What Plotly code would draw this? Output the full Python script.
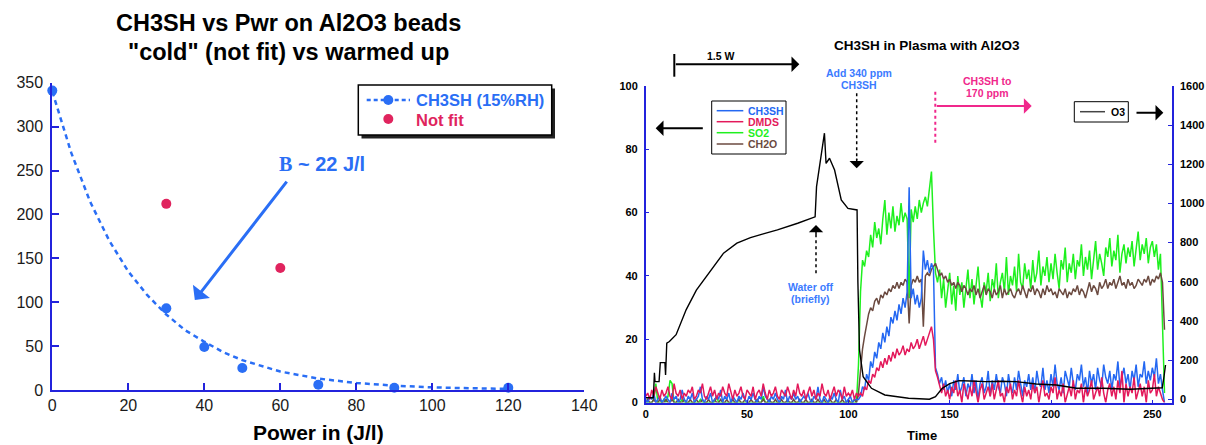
import plotly.graph_objects as go

W, H = 1206, 445
def fx(p): return p / W
def fy(p): return 1 - p / H

FONT = "Arial, Liberation Sans, sans-serif"
AXBLUE = "#2323dc"
LBLUE = "#2a6ef5"
CRIMSON = "#e0245e"

# ---------------- Left chart data ----------------
power = [0, 30, 40, 50, 70, 90, 120]
ch3sh_ppm = [341, 93, 49, 25, 6, 2.6, 2.6]
notfit_power = [30, 60]
notfit_ppm = [212, 139]
fit_power = [0, 5, 10, 15, 20, 25, 30, 35, 40, 45, 50, 60, 70, 80, 90, 100, 110, 120]
fit_ppm = [340, 270, 214, 170, 135, 108, 86, 68, 55, 43, 34, 21, 13, 8, 5, 3, 2, 1.3]
left_xticks = [0, 20, 40, 60, 80, 100, 120, 140]
left_yticks = [0, 50, 100, 150, 200, 250, 300, 350]

# ---------------- Right chart data ----------------
time = list(range(257))

ch3sh = [
    1, 0, 2, 1, 3, 0, 1, 2, 0, 1,
    2, 1, 0, 3, 1, 2, 0, 1, 4, 1,
    0, 2, 1, 3, 0, 1, 2, 5, 1, 0,
    2, 1, 3, 0, 1, 2, 1, 4, 0, 2,
    1, 3, 0, 2, 1, 0, 2, 1, 3, 1,
    0, 2, 1, 3, 1, 0, 2, 1, 5, 2,
    1, 0, 2, 1, 3, 1, 0, 2, 1, 4,
    0, 2, 1, 3, 1, 2, 0, 1, 2, 1,
    3, 1, 0, 2, 1, 5, 1, 0, 2, 1,
    0, 2, 1, 3, 1, 0, 4, 1, 2, 0,
    1, 2, 0, 1, 1,
    1, 2, 5, 4, 9, 7, 13, 11, 16, 14, 19, 17, 22, 19, 24, 21, 27, 25, 29, 26,
    31, 28, 33, 30, 35, 68, 33, 36, 31, 34, 30, 33, 48, 42, 45, 41, 44, 42, 11,
    9, 6, 8, 4, 7, 3, 6, 2, 7, 4, 9, 3, 5, 8, 2, 6,
    4, 9, 3, 7, 1, 6, 8, 3, 5, 10,
    2, 7, 4, 9, 5, 3, 8, 6, 2, 9,
    5, 3, 8, 4, 10, 6, 2, 7, 5, 9,
    4, 8, 3, 10, 6, 5, 11, 4, 7, 3,
    9, 5, 12, 6, 4, 8, 3, 10, 7, 5,
    11, 6, 4, 9, 7, 12, 5, 8, 3, 10,
    6, 9, 4, 11, 7, 5, 12, 8, 6, 10,
    4, 9, 7, 13, 5, 8, 11, 6, 9, 4,
    10, 7, 12, 5, 9, 8, 13, 6, 10, 7,
    11, 8, 14, 6, 9, 4, 0,
]

dmds = [
    2, 3, 1, 4, 2, 5, 3, 1, 4, 2,
    3, 5, 2, 1, 6, 3, 2, 4, 1, 3,
    2, 4, 3, 5, 1, 2, 4, 3, 6, 2,
    1, 3, 5, 2, 4, 1, 3, 2, 5, 3,
    2, 6, 3, 1, 4, 2, 3, 5, 2, 1,
    4, 3, 2, 5, 1, 3, 4, 2, 6, 3,
    1, 4, 2, 3, 5, 2, 1, 4, 3, 2,
    5, 3, 1, 4, 2, 6, 3, 2, 4, 1,
    3, 5, 2, 4, 1, 3, 2, 6, 3, 2,
    4, 1, 3, 5, 2, 4, 3, 1, 5, 2,
    3, 2, 4, 1, 3,
    2, 3, 2, 5, 4, 7, 6, 9, 8, 11, 10, 13, 11, 14, 12, 15, 13, 16, 14, 17,
    15, 16, 18, 15, 17, 16, 19, 17, 18, 20, 17, 19, 21, 18, 20, 22, 24, 20, 10,
    8, 5, 3, 6, 2, 4, 1, 5, 3, 7, 2, 4, 0, 6, 3, 1,
    5, 2, 7, 3, 0, 4, 6, 1, 3, 5,
    2, 6, 1, 4, 7, 2, 3, 0, 5, 3,
    6, 1, 4, 2, 7, 3, 0, 5, 2, 4,
    1, 6, 3, 5, 0, 4, 7, 2, 3, 1,
    5, 3, 8, 1, 4, 2, 6, 0, 3, 5,
    2, 7, 1, 4, 3, 6, 0, 5, 2, 4,
    7, 1, 3, 5, 2, 8, 3, 0, 4, 6,
    2, 5, 1, 7, 3, 10, 0, 6, 2, 5,
    3, 8, 1, 4, 6, 2, 5, 0, 7, 3,
    4, 9, 2, 5, 3, 1, 0,
]

so2 = [
    0, 0, 0, 0, 1, 6, 0, 0, 0, 1,
    0, 2, 7, 6, 0, 0, 0, 0, 1, 0,
    0, 0, 0, 0, 0, 0, 0, 1, 0, 0,
    0, 0, 0, 0, 0, 2, 0, 0, 0, 0,
    0, 0, 0, 0, 0, 0, 0, 0, 0, 0,
    0, 0, 0, 0, 0, 0, 0, 0, 2, 0,
    0, 0, 0, 0, 0, 0, 0, 0, 0, 0,
    0, 0, 0, 0, 0, 0, 0, 0, 0, 0,
    0, 0, 0, 0, 0, 0, 0, 0, 0, 0,
    0, 0, 0, 0, 0, 0, 0, 0, 0, 0,
    0, 0, 0, 0, 0,
    12, 35, 45, 43, 48, 46, 53, 49, 57, 52, 55, 50, 58, 64, 53, 60, 55, 62, 54, 59,
    56, 63, 57, 60, 58, 33, 61, 57, 62, 58, 64, 60, 63, 65, 62, 67, 73, 55, 41,
    38, 42, 33, 39, 30, 36, 41, 31, 37, 29, 40, 34, 38, 30, 36, 42,
    33, 39, 31, 37, 43, 34, 30, 38, 35, 41,
    32, 39, 36, 44, 33, 38, 41, 35, 46, 34,
    40, 37, 43, 35, 47, 38, 36, 44, 39, 42,
    36, 45, 38, 41, 48, 37, 43, 40, 46, 38,
    44, 39, 47, 41, 36, 45, 42, 49, 38, 44,
    41, 47, 39, 45, 43, 50, 40, 46, 42, 48,
    39, 45, 51, 42, 47, 44, 40, 49, 46, 52,
    43, 48, 45, 53, 41, 47, 50, 44, 49, 46,
    51, 43, 48, 54, 45, 50, 47, 52, 44, 49,
    51, 46, 50, 42, 47, 25, 3,
]

ch2o = [
    0, 1, 0, 0, 1, 0, 0, 1, 0, 0,
    1, 0, 0, 1, 0, 0, 1, 0, 0, 1,
    0, 0, 1, 0, 0, 1, 0, 0, 1, 0,
    0, 1, 0, 0, 1, 0, 0, 1, 0, 0,
    1, 0, 0, 1, 0, 0, 1, 0, 0, 1,
    0, 0, 1, 0, 0, 1, 0, 0, 1, 0,
    0, 1, 0, 0, 1, 0, 0, 1, 0, 0,
    1, 0, 0, 1, 0, 0, 1, 0, 0, 1,
    0, 0, 1, 0, 0, 1, 0, 0, 1, 0,
    0, 1, 0, 0, 1, 0, 0, 1, 0, 0,
    1, 0, 0, 1, 0,
    3, 10, 17, 21, 25, 28, 30, 29, 32, 33, 31, 34, 33, 35, 34, 36, 35, 37, 36, 38,
    36, 38, 37, 39, 38, 25, 37, 39, 38, 40, 38, 39, 24, 40, 41, 40, 42, 43, 44,
    42, 40, 41, 39, 40, 38, 39, 37, 38, 36, 38, 37, 35, 37, 36, 34,
    36, 35, 37, 34, 36, 33, 35, 37, 34, 36,
    35, 33, 36, 34, 35, 37, 33, 36, 34, 35,
    36, 34, 33, 35, 36, 34, 37, 35, 33, 36,
    35, 37, 34, 36, 35, 33, 36, 34, 37, 35,
    36, 34, 35, 33, 36, 35, 34, 36, 33, 35,
    34, 36, 35, 37, 34, 36, 35, 33, 36, 38,
    35, 37, 36, 34, 38, 36, 37, 39, 36, 38,
    37, 39, 36, 38, 40, 37, 38, 36, 39, 37,
    38, 36, 37, 39, 38, 37, 39, 38, 40, 37,
    39, 38, 40, 39, 41, 38, 23,
]

o3_time = [0, 3.8, 4.3, 4.6, 6.6, 7.2, 9.5, 9.8, 10.4, 11.7,
           15, 20, 25, 31.7, 38.4, 45, 51.7, 58, 65, 75,
           83.6, 84.3, 86, 88.2, 89, 90.7, 93.2, 96.5, 99.8, 104.3,
           104.7, 105.5, 107.3, 111.4, 118, 124, 129.7, 135, 140, 143,
           146.3, 150, 154.6, 160, 167.8, 175, 182.7, 192.7, 202.6, 212.6,
           225.9, 239, 248, 254.9, 255.8, 256.5]
o3 = [8, 8, 135, 90, 90, 187, 187, 124, 287, 295,
      330, 458, 557, 652, 746, 797, 826, 845, 865, 899,
      932, 1086, 1200, 1359, 1205, 1231, 1171, 1018, 975, 967,
      600, 252, 115, 56, 22, 12, 5, 3, 0, 13,
      56, 80, 95, 93, 90, 92, 90, 78, 73, 56,
      56, 51, 55, 59, 120, 175]

right_xticks = [0, 50, 100, 150, 200, 250]
right_yticks = [0, 20, 40, 60, 80, 100]
o3_ticks = [0, 200, 400, 600, 800, 1000, 1200, 1400, 1600]

series = [
    ("SO2", so2, "#1ef01e"),
    ("CH2O", ch2o, "#6b4a40"),
    ("CH3SH", ch3sh, "#2468f2"),
    ("DMDS", dmds, "#e3195b"),
]
legend_order = ["CH3SH", "DMDS", "SO2", "CH2O"]
colors = {n: c for n, _, c in series}

fig = go.Figure()

# ---- left chart traces ----
fig.add_trace(go.Scatter(x=fit_power, y=fit_ppm, mode="lines",
                         line=dict(color=LBLUE, width=2.5, dash="5px,4px"),
                         xaxis="x", yaxis="y", showlegend=False, hoverinfo="skip"))
fig.add_trace(go.Scatter(x=power, y=ch3sh_ppm, mode="markers",
                         marker=dict(color=LBLUE, size=10),
                         xaxis="x", yaxis="y", showlegend=False, cliponaxis=False))
fig.add_trace(go.Scatter(x=notfit_power, y=notfit_ppm, mode="markers",
                         marker=dict(color=CRIMSON, size=10),
                         xaxis="x", yaxis="y", showlegend=False))

# ---- right chart traces ----
for name, vals, col in series:
    fig.add_trace(go.Scatter(x=time, y=vals, mode="lines", name=name,
                             line=dict(color=col, width=1.5),
                             xaxis="x2", yaxis="y3", showlegend=False))
fig.add_trace(go.Scatter(x=o3_time, y=o3, mode="lines", name="O3",
                         line=dict(color="black", width=1.4),
                         xaxis="x2", yaxis="y4", showlegend=False))

common_ax = dict(showgrid=False, zeroline=False, showline=True, linecolor=AXBLUE,
                 ticks="inside", tickcolor=AXBLUE, automargin=False)

L_x0, L_x1, L_yt, L_yb = 52.3, 584.3, 82.7, 390
R_x0, R_x1, R_yt, R_yb = 645.7, 1172, 86, 402.6

fig.update_layout(
    width=W, height=H, margin=dict(l=0, r=0, t=0, b=0, autoexpand=False),
    paper_bgcolor="white", plot_bgcolor="white",
    font=dict(family=FONT, color="black"),
    xaxis=dict(common_ax, domain=[fx(L_x0), fx(L_x1)], range=[0, 140], anchor="y",
               tickvals=left_xticks, ticklen=7, tickwidth=1.5, linewidth=2,
               tickfont=dict(size=16, color="#1a1a1a")),
    yaxis=dict(common_ax, domain=[fy(L_yb), fy(L_yt)], range=[0, 350], anchor="x",
               tickvals=left_yticks, ticklen=7, tickwidth=1.5, linewidth=2,
               tickfont=dict(size=16, color="#1a1a1a"), ticklabelstandoff=4),
    yaxis2=dict(common_ax, overlaying="y", side="right", anchor="x", range=[0, 350],
                tickvals=left_yticks, ticklen=7, tickwidth=1.5, linewidth=2,
                showticklabels=False),
    xaxis2=dict(common_ax, domain=[fx(R_x0), fx(R_x1)], range=[0, 259.7], anchor="y3",
                tickvals=right_xticks, ticklen=3, tickwidth=1, linewidth=1.5,
                tickfont=dict(size=11, color="black", weight="bold")),
    yaxis3=dict(common_ax, domain=[fy(R_yb), fy(R_yt)], range=[0, 100], anchor="x2",
                tickvals=right_yticks, ticklen=4, tickwidth=1, linewidth=1.5,
                tickfont=dict(size=11, color="black", weight="bold"), ticklabelstandoff=4),
    yaxis4=dict(common_ax, overlaying="y3", side="right", anchor="x2", range=[-17, 1600],
                tickvals=o3_ticks, ticklen=4, tickwidth=1, linewidth=1.5,
                tickfont=dict(size=11, color="black", weight="bold"), ticklabelstandoff=4),
)

ann = []
shapes = []

def text(x, y, s, size, color="black", anchor="center", bold=True):
    ann.append(dict(x=fx(x), y=fy(y), xref="paper", yref="paper", text=s,
                    showarrow=False, xanchor=anchor, yanchor="middle",
                    font=dict(size=size, color=color, family=FONT,
                              weight="bold" if bold else "normal")))

def arrow(tx, ty, sx, sy, color="black", width=2, size=1.3):
    ann.append(dict(x=fx(tx), y=fy(ty), xref="paper", yref="paper", text="",
                    showarrow=True, ax=sx - tx, ay=sy - ty, arrowcolor=color,
                    arrowwidth=width, arrowhead=1, arrowsize=size, standoff=0))

def line(x0, y0, x1, y1, color="black", width=1.5, dash="solid"):
    shapes.append(dict(type="line", xref="paper", yref="paper",
                       x0=fx(x0), y0=fy(y0), x1=fx(x1), y1=fy(y1),
                       line=dict(color=color, width=width, dash=dash)))

def rect(x0, y0, x1, y1, fill="white", lc="black", lw=1):
    shapes.append(dict(type="rect", xref="paper", yref="paper",
                       x0=fx(x0), y0=fy(y0), x1=fx(x1), y1=fy(y1),
                       fillcolor=fill, line=dict(color=lc, width=lw)))

def dot(cx, cy, r, color):
    shapes.append(dict(type="circle", xref="paper", yref="paper",
                       x0=fx(cx - r), y0=fy(cy + r), x1=fx(cx + r), y1=fy(cy - r),
                       fillcolor=color, line=dict(width=0)))

# ---- left chart decorations ----
text(288, 23, "CH3SH vs Pwr on Al2O3 beads", 23.5)
text(288, 52, '"cold" (not fit) vs warmed up', 23.5)
text(318, 432, "Power in (J/l)", 21)
text(321.5, 164, "<span style='font-family:Liberation Serif'>B</span> ~ 22 J/l", 20, LBLUE)
ann.append(dict(x=37.5, y=102.5, xref="x", yref="y", axref="x", ayref="y",
                ax=62.0, ay=239, text="", showarrow=True, arrowcolor=LBLUE,
                arrowwidth=3, arrowhead=1, arrowsize=1.2, standoff=0))

rect(361.5, 88.5, 555, 138.5, fill="#222222", lc="#222222", lw=0)
rect(358.3, 85, 551.7, 135, fill="white", lc="black", lw=1.5)
line(366.7, 100, 410, 100, LBLUE, 2.5, "4px,3px")
dot(388.3, 100, 5, LBLUE)
dot(388.3, 119, 5, CRIMSON)
text(414, 100, "CH3SH (15%RH)", 16.5, LBLUE, "left")
text(414, 120, "Not fit", 16.5, CRIMSON, "left")

# ---- right chart decorations ----
text(926.5, 45.7, "CH3SH in Plasma with Al2O3", 13.5)
text(922, 435.5, "Time", 13)

text(721, 56, "1.5 W", 10.5)
line(674.3, 54, 674.3, 76.7, "black", 2)
arrow(799.3, 64.3, 674.3, 64.3)

rect(711.7, 101, 786, 154, lw=1)
for i, name in enumerate(legend_order):
    yy = [110.7, 121.7, 132.7, 144][i]
    line(716.7, yy, 743.3, yy, colors[name], 1.5)
    text(746, yy, name, 10.5, colors[name], "left")
arrow(655.7, 128.3, 704.3, 128.3)

text(859, 72.7, "Add 340 ppm", 10.5, "#3b7bff")
text(859, 85, "CH3SH", 10.5, "#3b7bff")
line(856.7, 93.3, 856.7, 160, "black", 1.5, "3px,3px")
arrow(856.7, 168.3, 856.7, 157, width=1.5, size=1.6)

text(987, 80.7, "CH3SH to", 10.5, "#f0288c")
text(987, 93.3, "170 ppm", 10.5, "#f0288c")
line(935.3, 91.7, 935.3, 145, "#f0288c", 2, "dot")
arrow(1031.7, 106, 935.3, 106, "#f0288c", 2)

rect(1074.3, 101.7, 1128.3, 122, lw=1)
line(1080, 111.7, 1105, 111.7, "#444444", 1.5)
text(1109.3, 111.7, "O3", 10.5, "black", "left")
arrow(1163.3, 112.7, 1135, 112.7)

text(810.5, 287.3, "Water off", 10.5, "#3b7bff")
text(810.5, 299.3, "(briefly)", 10.5, "#3b7bff")
line(816, 273.3, 816, 234, "black", 1.5, "3px,3px")
arrow(816, 225, 816, 236, width=1.5, size=1.6)

fig.update_layout(annotations=ann, shapes=shapes)
fig.write_html("out.html")
